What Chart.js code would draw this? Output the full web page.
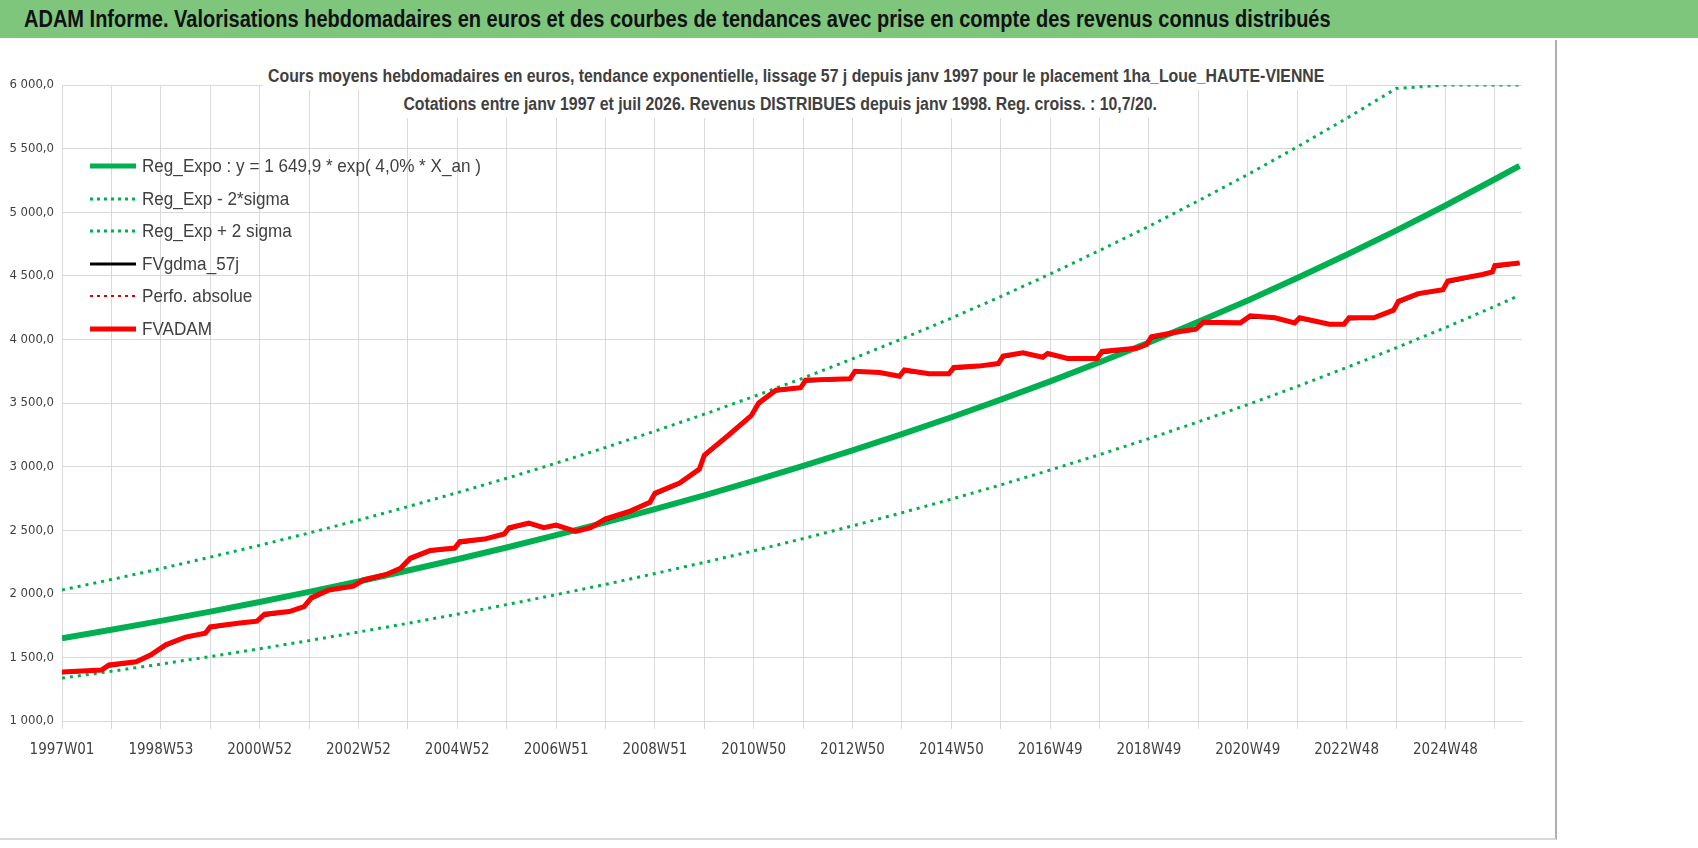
<!DOCTYPE html>
<html><head><meta charset="utf-8">
<script src="https://cdn.jsdelivr.net/npm/chart.js@4"></script>
<style>
body{margin:0;background:#fff;font-family:'Liberation Sans',sans-serif;}
#wrap{position:relative;width:1698px;height:848px;overflow:hidden;}
#band{position:absolute;left:0;top:0;width:1698px;height:38px;background:#7dc67c;}
#band span{position:absolute;left:24px;top:6px;font-size:23px;font-weight:bold;color:#111;white-space:nowrap;transform:scaleX(0.87);transform-origin:left top;}
#frame{position:absolute;left:0;top:40px;width:1555px;height:798px;border-right:2px solid #b0b0b0;border-bottom:2px solid #d8d8d8;}
#cv{position:absolute;left:0;top:42px;}
#ttl{position:absolute;left:190px;top:62px;width:1180px;text-align:center;font-size:18px;font-weight:bold;color:#404040;line-height:28px;white-space:nowrap;}
#ttl div{display:inline-block;background:#fff;padding:0 6px;transform:scaleX(0.88);}
#leg{position:absolute;left:90px;top:150px;font-size:19px;color:#404040;}
.li{height:32.5px;display:flex;align-items:center;}
.li span{display:inline-block;transform:scaleX(0.9);transform-origin:left center;white-space:nowrap;}
.ls{width:46px;margin-right:6px;}
</style></head><body>
<div id="wrap">
<div id="band"><span>ADAM Informe. Valorisations hebdomadaires en euros et des courbes de tendances avec prise en compte des revenus connus distribués</span></div>
<div id="frame"></div>
<canvas id="cv" width="1540" height="760" style="width:1540px;height:760px"></canvas>
<div id="ttl"><div>Cours moyens hebdomadaires en euros, tendance exponentielle, lissage 57 j depuis janv 1997 pour le placement 1ha_Loue_HAUTE-VIENNE</div><br><div>Cotations entre janv 1997 et juil 2026. Revenus DISTRIBUES depuis janv 1998. Reg. croiss. : 10,7/20.</div></div>
<div id="leg"></div>
</div>
<script>
// Libellés de l'axe des abscisses (un tous les deux ans)
const xLabels = ['1997W01','1998W53','2000W52','2002W52','2004W52','2006W51','2008W51','2010W50','2012W50','2014W50','2016W49','2018W49','2020W49','2022W48','2024W48'];

// Courbes de tendance (valeurs annuelles)
const trendYears = [1997,1998,1999,2000,2001,2002,2003,2004,2005,2006,2007,2008,2009,2010,2011,2012,2013,2014,2015,2016,2017,2018,2019,2020,2021,2022,2023,2024,2025,2026,2026.5];
const regExpo = [1650,1717,1787,1860,1936,2015,2097,2183,2272,2364,2461,2561,2666,2774,2887,3005,3128,3255,3388,3526,3670,3820,3975,4138,4306,4482,4665,4855,5053,5259,5365];
const regLow = [1337,1391,1447,1507,1568,1632,1699,1768,1840,1915,1993,2074,2159,2247,2338,2434,2534,2637,2744,2856,2973,3094,3220,3352,3488,3630,3779,3933,4093,4260,4346];
const regHigh = [2030,2112,2198,2288,2381,2478,2579,2685,2795,2908,3027,3150,3279,3412,3551,3696,3847,4004,4167,4337,4514,4699,4889,5090,5296,5513,5738,5972,6000,6000,6000];

// Valorisation FVADAM
const fvYears = [1997,1997.8,1997.95,1998.5,1998.8,1999.1,1999.5,1999.9,2000.0,2000.6,2000.95,2001.1,2001.6,2001.9,2002.05,2002.4,2002.9,2003.1,2003.55,2003.85,2004.05,2004.45,2004.95,2005.05,2005.55,2005.95,2006.05,2006.45,2006.75,2007.0,2007.4,2007.7,2008.0,2008.5,2008.9,2009.0,2009.5,2009.9,2010.0,2010.5,2010.95,2011.1,2011.45,2011.95,2012.05,2012.95,2013.05,2013.55,2013.95,2014.05,2014.55,2014.95,2015.05,2015.55,2015.95,2016.05,2016.45,2016.85,2016.95,2017.35,2017.95,2018.05,2018.75,2018.95,2019.05,2019.6,2019.95,2020.1,2020.85,2021.05,2021.55,2021.95,2022.05,2022.65,2022.95,2023.05,2023.55,2023.95,2024.05,2024.45,2024.95,2025.05,2025.75,2025.95,2026.0,2026.5];
const fvadam = [1385,1400,1440,1465,1520,1600,1660,1690,1740,1770,1785,1840,1860,1900,1970,2030,2060,2110,2150,2200,2280,2340,2360,2410,2430,2470,2520,2555,2520,2540,2490,2520,2590,2650,2720,2790,2870,2980,3090,3250,3400,3500,3600,3620,3680,3690,3750,3740,3710,3760,3730,3730,3780,3790,3810,3870,3895,3860,3890,3850,3850,3905,3930,3960,4020,4060,4080,4135,4130,4185,4170,4130,4170,4120,4120,4170,4170,4230,4300,4360,4390,4460,4510,4530,4580,4600];
const fvgdma = [1380,1398,1430,1462,1515,1590,1655,1688,1730,1768,1782,1830,1858,1895,1960,2025,2058,2100,2148,2195,2270,2335,2358,2400,2428,2468,2510,2552,2522,2535,2492,2518,2580,2645,2715,2780,2865,2975,3080,3245,3395,3490,3595,3618,3670,3688,3740,3740,3712,3750,3730,3730,3770,3788,3808,3860,3893,3862,3882,3850,3850,3895,3928,3955,4010,4058,4078,4125,4130,4175,4170,4132,4162,4122,4120,4160,4170,4225,4290,4355,4388,4450,4508,4528,4570,4598];

function pts(xs, ys) { return xs.map((x, i) => ({x: x, y: ys[i]})); }

const GREEN = '#00b050';
const datasets = [
    {label: 'Reg_Expo : y = 1 649,9 * exp( 4,0% *  X_an )', data: pts(trendYears, regExpo), borderColor: GREEN, borderWidth: 6},
    {label: 'Reg_Exp - 2*sigma', data: pts(trendYears, regLow), borderColor: GREEN, borderWidth: 3, borderDash: [3, 5]},
    {label: 'Reg_Exp + 2 sigma', data: pts(trendYears, regHigh), borderColor: GREEN, borderWidth: 3, borderDash: [3, 5]},
    {label: 'FVgdma_57j', data: pts(fvYears, fvgdma), borderColor: '#000', borderWidth: 3},
    {label: 'Perfo. absolue', data: [], borderColor: '#e00000', borderWidth: 2, borderDash: [2, 3]},
    {label: 'FVADAM', data: pts(fvYears, fvadam), borderColor: '#ff0000', borderWidth: 5}
];
// ordre de dessin : FVADAM au-dessus
datasets.forEach((d, i) => { d.pointRadius = 0; d.tension = 0; d.order = 6 - i; d.fill = false; });

const tickFont = {family: "'DejaVu Sans Condensed', 'Liberation Sans', sans-serif", size: 13};

new Chart(document.getElementById('cv').getContext('2d'), {
    type: 'line',
    data: {datasets: datasets},
    options: {
        responsive: false,
        animation: false,
        layout: {padding: {top: 43, right: 18, bottom: 21, left: 0}},
        plugins: {legend: {display: false}, tooltip: {enabled: false}},
        scales: {
            x: {
                type: 'linear', min: 1997, max: 2026.55,
                afterFit: s => { s.height = 60; },
                afterBuildTicks: s => { s.ticks = []; for (let y = 1997; y <= 2026; y++) s.ticks.push({value: y}); },
                grid: {color: '#d9d9d9', drawTicks: true, tickLength: 8},
                border: {color: '#d9d9d9'},
                ticks: {
                    autoSkip: false, maxRotation: 0, padding: 12,
                    color: '#404040', font: {...tickFont, size: 15},
                    callback: v => ((v - 1997) % 2 === 0 ? xLabels[(v - 1997) / 2] : '')
                }
            },
            y: {
                min: 1000, max: 6000,
                afterFit: s => { s.width = 62; },
                grid: {color: '#d9d9d9', drawTicks: false},
                border: {display: false},
                ticks: {
                    stepSize: 500, padding: 8, color: '#404040',
                    font: tickFont,
                    callback: v => (v >= 1000 ? Math.floor(v / 1000) + ' ' + String(v % 1000).padStart(3, '0') : v) + ',0'
                }
            }
        }
    }
});

// Légende manuelle, à l'intérieur de la zone de tracé
const leg = document.getElementById('leg');
datasets.forEach(d => {
    const row = document.createElement('div');
    row.className = 'li';
    const c = document.createElement('canvas');
    c.width = 46; c.height = 10; c.className = 'ls';
    const g = c.getContext('2d');
    g.strokeStyle = d.borderColor;
    g.lineWidth = Math.min(d.borderWidth, 5);
    if (d.borderDash) g.setLineDash([3, 4]);
    g.beginPath(); g.moveTo(0, 5); g.lineTo(46, 5); g.stroke();
    row.appendChild(c);
    const t = document.createElement('span');
    t.textContent = d.label;
    row.appendChild(t);
    leg.appendChild(row);
});
</script>
</body></html>
